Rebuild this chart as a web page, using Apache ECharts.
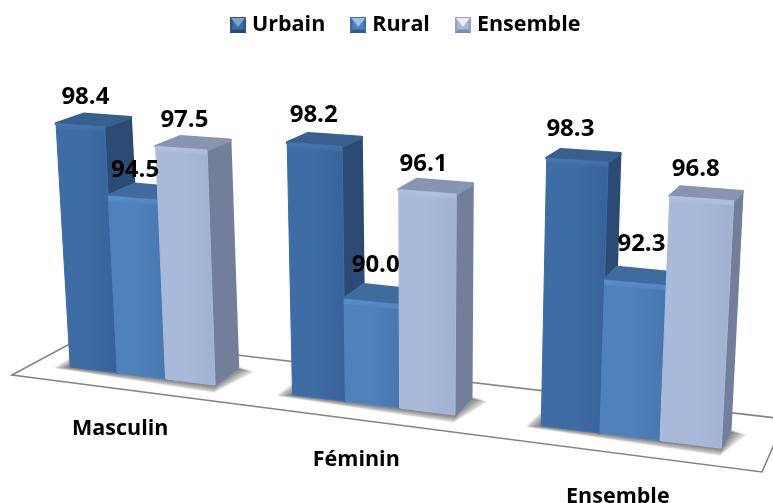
<!DOCTYPE html>
<html><head><meta charset="utf-8">
<style>html,body{margin:0;padding:0;background:#fff}#c{width:773px;height:503px}</style>
<script src="https://cdn.jsdelivr.net/npm/echarts@6/dist/echarts.min.js"></script>
</head><body><div id="c"></div>
<script>
const categories = ['Masculin', 'Féminin', 'Ensemble'];
const urbain = [98.4, 98.2, 98.3];
const rural = [94.5, 90.0, 92.3];
const ensemble = [97.5, 96.1, 96.8];

const AXIS_MIN = 84.5, AXIS_MAX = 100;
const FONT = '"Open Sans", sans-serif';
const PITCH = 4.51;            // category band / bar width
const labelNudge = [
  [[5, 2], [2, 2], [3, 2]],
  [[-1, 1], [4, -7], [-4, 2]],
  [[-7, -1], [6, -9], [-6, 1]]
];
const catNudge = [[-21, 53], [-16, 55], [-12, 60]];
const palettes = [
  {front: '#3e6ca4', light: '#4776ae', dark: '#38629a', top: '#38608f', topLight: '#4878b2', side: '#2b4a74', iconTop: '#7fa3cf', iconSide: '#2f5685', iconBot: '#274a74'},
  {front: '#4f81bd', light: '#578ac6', dark: '#4778b0', top: '#3f6b9e', topLight: '#5d8fcb', side: '#35587f', iconTop: '#a0c2ea', iconSide: '#3f6da6', iconBot: '#34598a'},
  {front: '#a9b9d9', light: '#b5c4e0', dark: '#a1b1d1', top: '#8795b2', topLight: '#b4c3e0', side: '#717f9a', iconTop: '#e6ecf7', iconSide: '#94a3c2', iconBot: '#7c8aa8'}
];

// Oblique view of the plot plane: grid pixel -> picture pixel
function baseX(u) {
  return 70 + 0.966 * (u - 70) + 0.00026 * ((u - 145) * (u - 145) - 5625);
}
function project(u, h, d) {
  const b = baseX(u);
  const H = h * (1 + 0.000226 * (b - 117));
  let x = b + H * 0.000167 * (b - 420);
  let y = 367 + 0.1246 * (b - 70) - H;
  if (d) {
    x += d * (29 - 0.0275 * x);
    y += d * (-18 + 0.035 * H);
  }
  return [x, y];
}
function grad(x, y, x2, y2, stops) {
  return {type: 'linear', x, y, x2, y2, colorStops: stops.map(c => ({offset: c[0], color: c[1]}))};
}
function poly(points, style, extra) {
  return Object.assign({type: 'polygon', shape: {points}, style}, extra || {});
}
function bevelIcon(p) {
  const cv = document.createElement('canvas');
  cv.width = cv.height = 32;
  const g = cv.getContext('2d');
  const tri = (pts, col) => {
    g.fillStyle = col; g.beginPath();
    pts.forEach((q, i) => i ? g.lineTo(q[0], q[1]) : g.moveTo(q[0], q[1]));
    g.closePath(); g.fill();
  };
  tri([[0, 0], [32, 0], [32, 32], [0, 32]], p.iconSide);
  tri([[0, 32], [32, 32], [24, 24], [8, 24]], p.iconBot);
  tri([[5, 5], [27, 5], [27, 25], [5, 25]], p.front);
  tri([[2, 2], [30, 2], [16, 20]], p.iconTop);
  return 'image://' + cv.toDataURL();
}

function barSeries(name, values, idx) {
  const p = palettes[idx];
  const frontFill = grad(0, 0, 1, 0, [[0, p.light], [0.04, p.front], [0.5, p.front], [0.95, p.dark], [1, p.dark]]);
  return {
    name, type: 'custom', coordinateSystem: 'cartesian2d',
    itemStyle: {color: p.front},
    data: values.map((v, i) => [i, v]),
    encode: {x: 0, y: 1},
    renderItem(params, api) {
      const c = api.value(0), v = api.value(1);
      const band = api.size([1, 0])[0], W = band / PITCH;
      const ptTop = api.coord([c, v]), ptBase = api.coord([c, AXIS_MIN]);
      const h = ptBase[1] - ptTop[1];
      const uL = ptTop[0] + (idx - 1.5) * W, uR = uL + W;
      const fbl = project(uL, 0), fbr = project(uR, 0), ftl = project(uL, h), ftr = project(uR, h);
      const bbr = project(uR, 0, 1), btr = project(uR, h, 1), btl = project(uL, h, 1);
      const bevel = 5;
      const ftl2 = [ftl[0], ftl[1] + bevel], ftr2 = [ftr[0], ftr[1] + bevel];
      const nudge = labelNudge[c][idx];
      return {
        type: 'group',
        children: [
          poly([ftr, btr, bbr, fbr], {fill: p.side, stroke: p.side, lineWidth: 2, lineJoin: 'round'}),
          poly([ftl, ftr, btr, btl], {fill: p.top, stroke: p.top, lineWidth: 3, lineJoin: 'round'}),
          poly([ftl, ftr, fbr, fbl], {fill: frontFill, stroke: p.front, lineWidth: 1, lineJoin: 'round'}),
          poly([ftl, ftr, ftr2, ftl2], {fill: grad(0, 0, 0, 1, [[0, p.topLight], [1, p.front]])}),
          {
            type: 'text', z2: 100,
            style: {
              x: (ftl[0] + ftr[0]) / 2 + nudge[0],
              y: (ftl[1] + ftr[1]) / 2 - 30 + nudge[1],
              text: v.toFixed(1), fill: '#000', font: 'bold 24px ' + FONT,
              align: 'center', verticalAlign: 'middle'
            }
          }
        ]
      };
    }
  };
}

const SHADOW_STEPS = [8, 7, 6, 5, 4, 3, 2, 1];
const groundSeries = {
  name: 'sol', type: 'custom', coordinateSystem: 'cartesian2d', silent: true,
  data: categories.map((c, i) => [i, AXIS_MIN]),
  encode: {x: 0, y: 1},
  renderItem(params, api) {
    const c = api.value(0);
    const band = api.size([1, 0])[0], W = band / PITCH;
    const pt = api.coord([c, AXIS_MIN]);
    const uL = pt[0] - 1.5 * W, uR = pt[0] + 1.5 * W, uM = pt[0];
    const a = project(uL, 0), b = project(uR, 0), cc = project(uR, 0, 1), d = project(uL, 0, 1), m = project(uM, 0);
    const layers = SHADOW_STEPS.map((k, n) => ({
      type: 'polygon',
      shape: {points: [
        [a[0] - 1.9 * k, a[1] + 0.1 * k],
        [b[0] - 0.2 * k, b[1] + 0.9 * k],
        [cc[0] + 1.9 * k, cc[1] + 0.6 * k],
        [d[0] - 0.5 * k, d[1] - 0.6 * k]
      ]},
      style: {fill: 'rgba(40,40,40,0.085)', stroke: 'rgba(40,40,40,0.04)', lineWidth: 2, lineJoin: 'round'}
    }));
    return {
      type: 'group',
      children: layers.concat([{
        type: 'text', z2: 100,
        style: {
          x: m[0] + catNudge[c][0], y: m[1] + catNudge[c][1],
          text: categories[c], fill: '#000', font: 'bold 21.5px ' + FONT,
          align: 'center', verticalAlign: 'middle'
        }
      }])
    };
  }
};

const chart = echarts.init(document.getElementById('c'), null, {renderer: 'canvas'});
chart.setOption({
  animation: false,
  backgroundColor: '#fff',
  grid: {left: 32.5, width: 676.5, top: 100, height: 274.35},
  xAxis: {type: 'category', data: categories, show: false},
  yAxis: {type: 'value', min: AXIS_MIN, max: AXIS_MAX, show: false},
  legend: {
    left: 225, top: 9, itemWidth: 16, itemHeight: 16, itemGap: 25,
    textStyle: {fontFamily: FONT, fontWeight: 'bold', fontSize: 21.5, color: '#000', padding: [0, 0, 0, 1]},
    data: [
      {name: 'Urbain', icon: bevelIcon(palettes[0])},
      {name: 'Rural', icon: bevelIcon(palettes[1])},
      {name: 'Ensemble', icon: bevelIcon(palettes[2])}
    ]
  },
  graphic: {elements: [{
    type: 'polygon', z: 0, silent: true,
    shape: {points: [[12, 375], [82.6, 337], [785, 419], [762, 472]]},
    style: {fill: '#fff', stroke: '#858585', lineWidth: 1.6, lineJoin: 'miter'}
  }]},
  series: [groundSeries, barSeries('Urbain', urbain, 0), barSeries('Rural', rural, 1), barSeries('Ensemble', ensemble, 2)]
});
</script></body></html>
